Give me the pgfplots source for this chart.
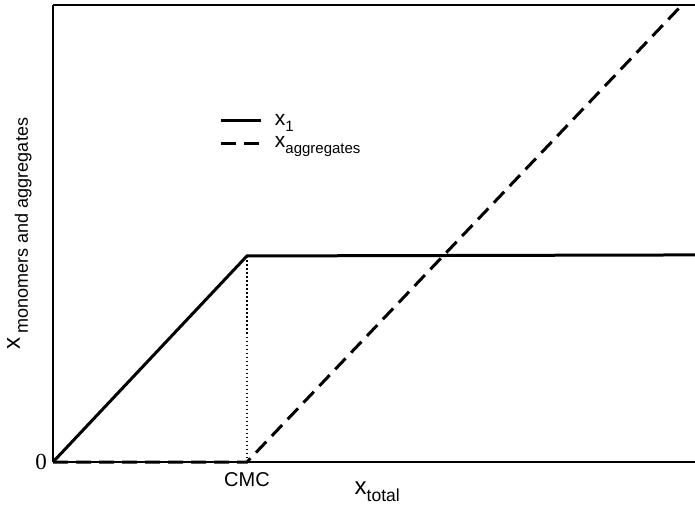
\documentclass[border=0pt]{standalone}
\usepackage{fontspec}
\setmainfont{Liberation Sans}
\newfontfamily\seriffont{Liberation Serif}
\usepackage{pgfplots}
\pgfplotsset{compat=1.18}
\begin{document}
\begin{tikzpicture}
\useasboundingbox (-53pt,-49pt) rectangle (642pt,462pt);
\begin{axis}[
  at={(0,0)}, anchor=south west,
  scale only axis, width=642pt, height=457pt,
  xmin=0, xmax=3.31, ymin=0, ymax=2.218,
  clip=false,
  axis x line=box, axis y line=left,
  axis line style={-, line width=1.5pt},
  xtick={1}, xticklabels={CMC},
  ytick={0}, yticklabels={{\seriffont 0}},
  major tick length=0pt,
  xticklabel style={font=\fontsize{20}{24}\selectfont, inner sep=0pt, yshift=-10pt},
  yticklabel style={font=\fontsize{23}{26}\selectfont, inner sep=0pt, xshift=-6pt},
  xlabel={x\raisebox{-7pt}{\fontsize{17.5}{20}\selectfont total}},
  ylabel={x\,\raisebox{-8pt}{\fontsize{18}{20}\selectfont monomers and aggregates}},
  xlabel style={font=\fontsize{24}{28}\selectfont, at={(axis description cs:0.505,-0.044)}, anchor=north, inner sep=0pt},
  ylabel style={font=\fontsize{24}{28}\selectfont, at={(axis description cs:-0.033,0.5)}, anchor=south, inner sep=0pt},
  legend style={draw=none, fill=none, at={(axis description cs:0.255,0.77)}, anchor=north west,
    font=\fontsize{21}{24}\selectfont, row sep=6pt},
  legend cell align=left,
  legend image code/.code={\draw[#1] (0pt,0pt) -- (40pt,0pt); \path (50pt,0pt);},
]
\addplot[black, line width=3pt] coordinates {(0,0) (1,1) (3.31,1.005)};
\addlegendentry{x\raisebox{-6pt}{\fontsize{15}{17}\selectfont 1}}
\addplot[black, line width=3pt, dash pattern=on 15pt off 8pt] coordinates {(0,0) (1,0) (3.243,2.218)};
\addlegendentry{x\raisebox{-6pt}{\fontsize{15}{17}\selectfont aggregates}}
\addplot[black, line width=1.5pt, dash pattern=on 1.5pt off 2.5pt, forget plot] coordinates {(1,0) (1,1)};
\end{axis}
\end{tikzpicture}
\end{document}
